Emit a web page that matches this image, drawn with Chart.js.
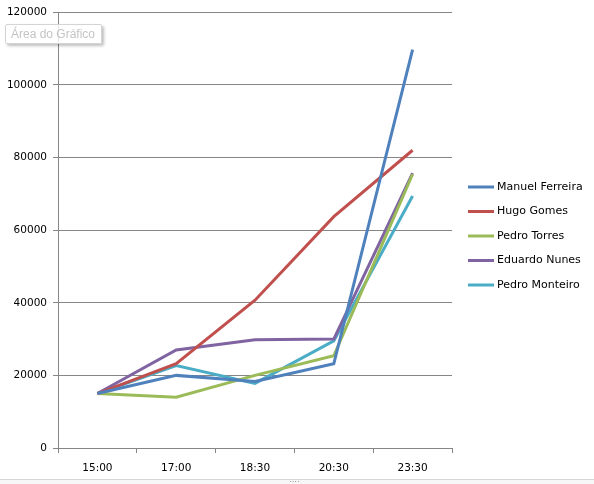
<!DOCTYPE html>
<html>
<head>
<meta charset="utf-8">
<script src="https://cdn.jsdelivr.net/npm/chart.js@4.4.1/dist/chart.umd.min.js"></script>
<style>
  html, body { margin: 0; padding: 0; background: #fff; }
  #wrap { position: relative; width: 594px; height: 484px; overflow: hidden; }
  #c { position: absolute; left: 0; top: 0; }
  #tip { position: absolute; left: 5px; top: 24px; width: 97px; height: 20px; box-sizing: border-box;
         border: 1px solid #d4d4d4; background: rgba(255,255,255,0.8); border-radius: 2px;
         box-shadow: 2px 2px 3px rgba(0,0,0,0.25); font: 12px "Liberation Sans", sans-serif;
         color: #c4c4c4; line-height: 18px; padding-left: 5px; white-space: nowrap; }
  #strip { position: absolute; left: 0; top: 479px; width: 594px; height: 5px; border-top: 1px solid #d6d6d6; background: #f7f7f7; }
  #dots { position: absolute; left: 289px; top: 480px; font: 8px sans-serif; color: #888; line-height: 4px; }
</style>
</head>
<body>
<div id="wrap">
  <canvas id="c" width="594" height="484"></canvas>
  <div id="tip">Área do Gráfico</div>
  <div id="strip"></div>
  <div id="dots">····</div>
</div>
<script>
const categories = ["15:00", "17:00", "18:30", "20:30", "23:30"];
const seriesNames = ["Manuel Ferreira", "Hugo Gomes", "Pedro Torres", "Eduardo Nunes", "Pedro Monteiro"];
const manuelFerreira = [15000, 20000, 18300, 23200, 109700];
const hugoGomes      = [15000, 23200, 40700, 63700, 82000];
const pedroTorres    = [15000, 14000, 20000, 25400, 75400];
const eduardoNunes   = [15000, 27000, 29800, 30000, 75700];
const pedroMonteiro  = [15000, 22700, 17800, 29500, 69400];
const yTicks = [0, 20000, 40000, 60000, 80000, 100000, 120000];
const colors = ["#4F81BD", "#C0504D", "#9BBB59", "#8064A2", "#4BACC6"];

const seriesValues = [manuelFerreira, hugoGomes, pedroTorres, eduardoNunes, pedroMonteiro];
const FONT = "DejaVu Sans";

const legendPlugin = {
  id: 'customLegend',
  afterDraw(chart) {
    const ctx = chart.ctx;
    const area = chart.chartArea;
    ctx.save();
    ctx.font = '11px "' + FONT + '"';
    ctx.textBaseline = 'middle';
    chart.data.datasets.forEach((ds, i) => {
      const y = 187 + i * 24.5;
      const x0 = area.right + 16;
      ctx.strokeStyle = ds.borderColor;
      ctx.lineWidth = 3;
      ctx.beginPath();
      ctx.moveTo(x0, y);
      ctx.lineTo(x0 + 26, y);
      ctx.stroke();
      ctx.fillStyle = '#000';
      ctx.fillText(ds.label, x0 + 29, y);
    });
    ctx.restore();
  }
};

new Chart(document.getElementById('c'), {
  type: 'line',
  data: {
    labels: categories,
    datasets: seriesNames.map((n, i) => ({
      label: n,
      data: seriesValues[i],
      borderColor: colors[i],
      backgroundColor: colors[i],
      borderWidth: 3,
      pointRadius: 0,
      tension: 0,
      fill: false
    }))
  },
  options: {
    responsive: false,
    animation: false,
    events: [],
    layout: { padding: { left: 0, right: 142, top: 9, bottom: 0 } },
    plugins: { legend: { display: false }, tooltip: { enabled: false } },
    scales: {
      x: {
        offset: true,
        grid: { offset: true, drawOnChartArea: false, drawTicks: true, tickLength: 5, color: '#868686' },
        border: { display: true, color: '#868686', width: 1 },
        ticks: { color: '#000', font: { family: FONT, size: 10.5 }, padding: 9, maxRotation: 0 },
        afterFit(s) { s.height = 36; }
      },
      y: {
        min: 0, max: 120000,
        afterBuildTicks(s) { s.ticks = yTicks.map(v => ({ value: v })); },
        grid: { color: '#868686', tickLength: 5, drawTicks: true },
        border: { display: true, color: '#868686', width: 1 },
        ticks: { color: '#000', font: { family: FONT, size: 10.5 }, padding: 6, callback: v => String(v) },
        afterFit(s) { s.width = 58; }
      }
    }
  },
  plugins: [legendPlugin]
});
</script>
</body>
</html>
